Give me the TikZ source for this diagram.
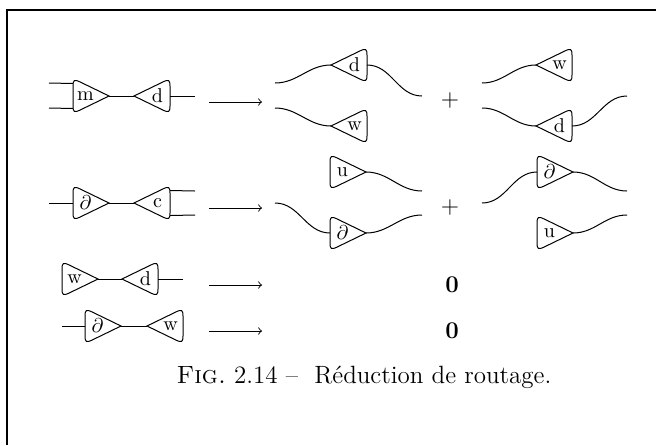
\documentclass[tikz,border=0pt]{standalone}
\usepackage{amsmath}

\tikzset{
  wire/.style={line width=0.5pt},
  lbl/.style={font=\fontsize{10}{11}\selectfont, inner sep=0pt},
  tri/.pic={
    \draw[wire] (36,0) -- (7.2,14.0) .. controls (1.2,16.9) and (0,16) .. (0,10)
      -- (0,-10) .. controls (0,-16) and (1.2,-16.9) .. (7.2,-14.0) -- cycle;
    \coordinate (-flat) at (0,0);
    \coordinate (-apex) at (36,0);
    \coordinate (-up) at (0,-12.5);
    \coordinate (-dn) at (0,12.5);
    \node[lbl] (-txt) at (12.5,0) {#1};
  }
}

\begin{document}
\begin{tikzpicture}[x=0.5pt, y=-0.5pt, font=\fontsize{11.5}{14}\selectfont]

  \useasboundingbox (0,0) rectangle (656,445);

  % frame
  \coordinate (fr1) at (7,445);
  \coordinate (fr2) at (7,10);
  \coordinate (fr3) at (656,10);
  \draw[line width=0.7pt] (fr1) -- (fr2) -- (fr3);

  % row 1 : m d
  \pic (gm) at (73,96) {tri=m};
  \pic[xscale=-1] (gda) at (170,96) {tri=d};
  \coordinate (i1a) at (49,83);
  \coordinate (i1b) at (49,108);
  \coordinate (o1) at (195,96);
  \draw[wire] (i1a) -- (gm-up);
  \draw[wire] (i1b) -- (gm-dn);
  \draw[wire] (gm-apex) -- (gda-apex);
  \draw[wire] (gda-flat) -- (o1);

  \pic[xscale=-1] (ra1) at (367,65) {tri=d};
  \pic[xscale=-1] (ra2) at (367,126) {tri=w};
  \pic[xscale=-1] (rb1) at (572,65) {tri=w};
  \pic[xscale=-1] (rb2) at (572,126) {tri=d};
  \coordinate (ra1in) at (275,83);
  \coordinate (ra2in) at (275,108);
  \coordinate (ra1out) at (422,96);
  \coordinate (rb1in) at (482,83);
  \coordinate (rb2in) at (482,108);
  \coordinate (rb2out) at (627,96);
  \draw[wire] (ra1in) to[out=0,in=180] (ra1-apex);
  \draw[wire] (ra1-flat) to[out=0,in=180] (ra1out);
  \draw[wire] (ra2in) to[out=0,in=180] (ra2-apex);
  \draw[wire] (rb1in) to[out=0,in=180] (rb1-apex);
  \draw[wire] (rb2in) to[out=0,in=180] (rb2-apex);
  \draw[wire] (rb2-flat) to[out=0,in=180] (rb2out);
  \node (plus1) at (450,100) {$+$};

  % row 2 : del c
  \pic (gp) at (73,203) {tri=$\partial$};
  \pic[xscale=-1] (gc) at (170,203) {tri=c};
  \coordinate (i2) at (49,203);
  \coordinate (o2a) at (195,191);
  \coordinate (o2b) at (195,215);
  \draw[wire] (i2) -- (gp-flat);
  \draw[wire] (gp-apex) -- (gc-apex);
  \draw[wire] (gc-up) -- (o2a);
  \draw[wire] (gc-dn) -- (o2b);

  \pic (su) at (330,172) {tri=u};
  \pic (sp) at (330,233) {tri=$\partial$};
  \pic (tp) at (537,172) {tri=$\partial$};
  \pic (tu) at (537,233) {tri=u};
  \coordinate (suout) at (422,191);
  \coordinate (spin) at (275,203);
  \coordinate (spout) at (422,215);
  \coordinate (tpin) at (482,203);
  \coordinate (tpout) at (627,191);
  \coordinate (tuout) at (627,215);
  \draw[wire] (su-apex) to[out=0,in=180] (suout);
  \draw[wire] (spin) to[out=0,in=180] (sp-flat);
  \draw[wire] (sp-apex) to[out=0,in=180] (spout);
  \draw[wire] (tpin) to[out=0,in=180] (tp-flat);
  \draw[wire] (tp-apex) to[out=0,in=180] (tpout);
  \draw[wire] (tu-apex) to[out=0,in=180] (tuout);
  \node (plus2) at (450,207) {$+$};

  % row 3 : w d
  \pic (hw) at (62,279) {tri=w};
  \pic[xscale=-1] (hd) at (158,279) {tri=d};
  \coordinate (o3) at (183,279);
  \draw[wire] (hw-apex) -- (hd-apex);
  \draw[wire] (hd-flat) -- (o3);
  \node (zero1) at (452,285) {$\mathbf{0}$};

  % row 4 : del w
  \pic (kp) at (85,326) {tri=$\partial$};
  \pic[xscale=-1] (kw) at (183,326) {tri=w};
  \coordinate (i4) at (62,326);
  \draw[wire] (i4) -- (kp-flat);
  \draw[wire] (kp-apex) -- (kw-apex);
  \node (zero2) at (452,331) {$\mathbf{0}$};

  % arrows
  \foreach \y/\n in {102/1, 208/2, 285/3, 331/4} {
    \coordinate (arr\n s) at (209,\y);
    \coordinate (arr\n e) at (262,\y);
    \draw[->, line width=0.45pt] (arr\n s) -- (arr\n e);
  }

  \node[font=\fontsize{12.5}{15}\selectfont] (cap) at (364,377)
    {\textsc{Fig.}~2.14 -- \ Réduction de routage.};

\end{tikzpicture}
\end{document}
